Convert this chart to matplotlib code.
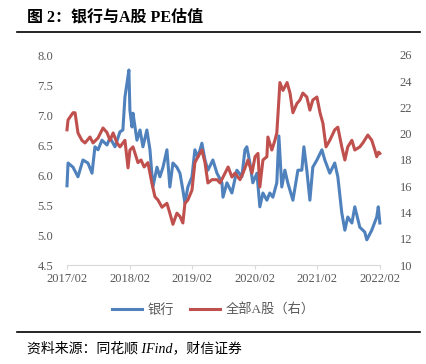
import numpy as np
import pandas as pd
import matplotlib
matplotlib.use('Agg')
import matplotlib.pyplot as plt
from matplotlib.lines import Line2D

plt.rcParams['font.family'] = ['Liberation Serif', 'Noto Sans CJK SC', 'DejaVu Sans']

# 银行 PE (left axis)
bank_dates = ['2017-02-01', '2017-02-07', '2017-03-08', '2017-04-06', '2017-05-05',
              '2017-06-03', '2017-06-27', '2017-07-14', '2017-08-01', '2017-08-24',
              '2017-09-22', '2017-10-10', '2017-11-08', '2017-12-07', '2017-12-24',
              '2018-01-05', '2018-01-17', '2018-01-28', '2018-02-03', '2018-02-15',
              '2018-02-21', '2018-03-16', '2018-04-03', '2018-04-20', '2018-05-13',
              '2018-05-31', '2018-06-17', '2018-07-11', '2018-07-28', '2018-08-15',
              '2018-09-07', '2018-09-24', '2018-10-12', '2018-11-04', '2018-11-22',
              '2018-12-09', '2018-12-21', '2019-01-07', '2019-01-31', '2019-02-17',
              '2019-03-07', '2019-03-30', '2019-04-17', '2019-05-04', '2019-06-02',
              '2019-06-26', '2019-07-25', '2019-07-31', '2019-08-23', '2019-09-21',
              '2019-10-20', '2019-11-18', '2019-12-06', '2019-12-17', '2020-01-04',
              '2020-01-21', '2020-02-14', '2020-03-02', '2020-03-20', '2020-04-12',
              '2020-04-29', '2020-05-17', '2020-06-09', '2020-06-21', '2020-07-08',
              '2020-07-26', '2020-08-12', '2020-09-11', '2020-10-10', '2020-11-02',
              '2020-11-14', '2020-12-01', '2020-12-19', '2021-01-05', '2021-01-29',
              '2021-02-27', '2021-03-16', '2021-04-14', '2021-05-13', '2021-05-31',
              '2021-06-23', '2021-07-11', '2021-07-28', '2021-08-21', '2021-09-07',
              '2021-10-06', '2021-11-04', '2021-11-16', '2021-12-15', '2022-01-13',
              '2022-01-22', '2022-01-31']
bank_pe = [5.82, 6.20, 6.13, 5.97, 6.25,
           6.20, 6.03, 6.47, 6.42, 6.58,
           6.50, 6.62, 6.47, 6.72, 6.75,
           7.30, 7.53, 7.75, 7.08, 6.80,
           7.03, 6.58, 6.75, 6.47, 6.75,
           6.42, 5.80, 6.13, 5.97, 6.13,
           6.42, 5.80, 6.20, 6.13, 6.03,
           5.75, 5.53, 5.80, 5.97, 6.42,
           6.30, 6.53, 6.25, 6.08, 6.25,
           6.03, 5.87, 5.63, 5.87, 5.70,
           6.08, 5.97, 6.42, 6.47, 6.20,
           5.87, 6.03, 5.47, 5.70, 5.58,
           5.70, 5.63, 5.87, 6.65, 5.80,
           6.08, 5.87, 5.58, 6.08, 6.08,
           6.47, 6.08, 5.58, 6.13, 6.25,
           6.42, 6.25, 6.03, 6.20, 5.97,
           5.37, 5.08, 5.30, 5.20, 5.47,
           5.13, 5.05, 4.92, 5.08, 5.30,
           5.47, 5.20]

# 全部A股 PE (right axis)
a_dates = ['2017-02-01', '2017-02-07', '2017-03-08', '2017-03-20', '2017-04-06',
           '2017-04-29', '2017-05-17', '2017-06-15', '2017-07-03', '2017-08-01',
           '2017-08-30', '2017-09-22', '2017-10-10', '2017-10-28', '2017-11-20',
           '2017-12-07', '2018-01-05', '2018-01-23', '2018-02-03', '2018-02-21',
           '2018-03-22', '2018-04-09', '2018-04-27', '2018-05-19', '2018-06-11',
           '2018-06-29', '2018-07-17', '2018-08-09', '2018-09-07', '2018-09-24',
           '2018-10-12', '2018-11-04', '2018-11-22', '2018-12-09', '2018-12-21',
           '2019-01-07', '2019-01-31', '2019-02-17', '2019-03-07', '2019-03-30',
           '2019-04-17', '2019-05-04', '2019-05-28', '2019-06-26', '2019-07-14',
           '2019-08-12', '2019-08-30', '2019-09-21', '2019-10-09', '2019-11-07',
           '2019-11-25', '2019-12-24', '2020-01-16', '2020-02-03', '2020-02-20',
           '2020-03-02', '2020-03-20', '2020-04-12', '2020-04-18', '2020-05-11',
           '2020-05-29', '2020-06-09', '2020-06-21', '2020-06-27', '2020-07-15',
           '2020-08-08', '2020-08-25', '2020-09-11', '2020-10-04', '2020-10-22',
           '2020-11-08', '2020-12-01', '2020-12-19', '2021-01-05', '2021-01-29',
           '2021-02-16', '2021-03-05', '2021-03-23', '2021-04-14', '2021-05-13',
           '2021-05-31', '2021-06-23', '2021-07-11', '2021-07-28', '2021-08-21',
           '2021-09-07', '2021-10-06', '2021-10-24', '2021-11-22', '2021-12-15',
           '2022-01-02', '2022-01-13', '2022-01-24', '2022-01-31']
a_pe = [20.3, 21.05, 21.6, 21.6, 20.06,
        19.5, 19.3, 19.75, 19.3, 19.68,
        20.44, 20.1, 19.5, 20.06, 19.3,
        19.0, 19.5, 17.4, 18.76, 19.0,
        17.8, 18.0, 17.47, 17.8, 16.25,
        15.2, 14.95, 14.4, 14.7, 13.95,
        13.1, 13.95, 13.7, 13.2, 14.7,
        14.95, 15.7, 17.8, 18.25, 18.76,
        17.8, 16.25, 16.5, 16.5, 16.25,
        17.0, 17.47, 16.7, 17.0, 16.5,
        17.0, 18.0, 17.0, 18.25, 18.5,
        15.94, 18.0, 18.25, 19.75, 18.76,
        19.5, 20.06, 22.57, 23.9, 23.3,
        23.9, 23.1, 21.6, 22.3, 22.57,
        23.1, 22.8, 21.8, 22.57, 22.8,
        21.6, 20.8, 19.0, 19.5, 20.3,
        20.5, 19.0, 18.0, 19.0, 19.5,
        18.76, 19.0, 19.3, 19.9, 19.5,
        18.76, 18.25, 18.6, 18.5]

xtick_labels = ['2017/02', '2018/02', '2019/02', '2020/02', '2021/02', '2022/02']

blue = '#4f81bd'
red = '#c0504d'
grey = '#595959'

fig = plt.figure(figsize=(4.27, 3.64), dpi=100)
ax = fig.add_axes([67/427, 1 - 265/364, (380 - 67)/427, (265 - 55)/364])
ax2 = ax.twinx()

ax.plot(pd.to_datetime(bank_dates), bank_pe, color=blue, lw=2.2, clip_on=False)
ax2.plot(pd.to_datetime(a_dates), a_pe, color=red, lw=2.2, clip_on=False)

xt = pd.to_datetime([s.replace('/', '-') + '-01' for s in xtick_labels])
ax.set_xlim(xt[0], xt[-1])
ax.set_xticks(xt)
ax.set_xticklabels(xtick_labels)

ax.set_ylim(4.5, 8.0)
ax.set_yticks(np.arange(4.5, 8.01, 0.5))
ax.set_yticklabels(['%.1f' % v for v in np.arange(4.5, 8.01, 0.5)])
ax2.set_ylim(10, 26)
ax2.set_yticks(np.arange(10, 27, 2))

for a in (ax, ax2):
    for s in a.spines.values():
        s.set_visible(False)
    a.tick_params(axis='y', length=0, labelsize=9, labelcolor=grey)
ax.spines['bottom'].set_visible(True)
ax.spines['bottom'].set_color('#d9d9d9')
ax.tick_params(axis='x', length=3, color='#d9d9d9', labelsize=9,
               labelcolor=grey, pad=3)
ax.tick_params(axis='y', pad=10)
ax2.tick_params(axis='y', pad=14)

# legend
handles = [Line2D([], [], color=blue, lw=2.2),
           Line2D([], [], color=red, lw=2.2)]
leg = fig.legend(handles, ['银行', '全部A股（右）'], loc='center',
                 bbox_to_anchor=(213/427, 1 - 310/364), ncol=2, frameon=False,
                 handlelength=2.3, columnspacing=1.2, handletextpad=0.4,
                 prop={'size': 9.5})
for t in leg.get_texts():
    t.set_color(grey)

# title, rules, source
fig.text(27/427, 1 - 17/364, '图 2：银行与A股 PE估值', fontsize=11.5,
         fontweight='bold', va='center', ha='left', color='black')
fig.add_artist(Line2D([17/427, 420/427], [1 - 32/364, 1 - 32/364],
                      color='black', lw=1.2))
fig.add_artist(Line2D([17/427, 420/427], [1 - 332/364, 1 - 332/364],
                      color='black', lw=1.2))
fig.text(27/427, 1 - 348/364, '资料来源：同花顺 IFind，财信证券', fontsize=10,
         style='italic', va='center', ha='left', color='black')

fig.savefig('out.png', dpi=100)
